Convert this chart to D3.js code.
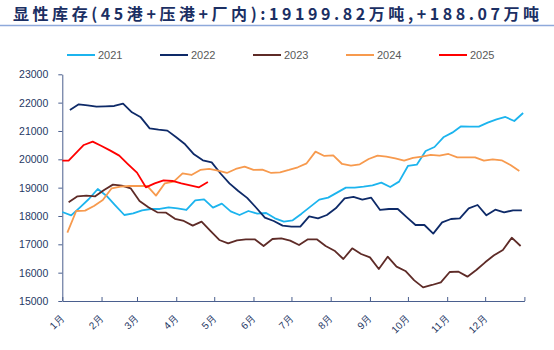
<!DOCTYPE html>
<html>
<head>
<meta charset="utf-8">
<script src="https://cdn.jsdelivr.net/npm/d3@7"></script>
<style>
	body { margin: 0; background: #fff; }
	.axis text { font-family: "Liberation Sans", Arial, sans-serif; fill: #1F3864; }
	.axis path, .axis line { stroke: #4A5F8E; }
</style>
</head>
<body>
<div id="chart-area"></div>
<script>

// tick labels + legend
var monthLabels = ["1月", "2月", "3月", "4月", "5月", "6月", "7月", "8月", "9月", "10月", "11月", "12月"];
var years = ["2021", "2022", "2023", "2024", "2025"];
var yTicks = [15000, 16000, 17000, 18000, 19000, 20000, 21000, 22000, 23000];

// first week of each year (weekly data after that)
var startDates = ["01-01", "01-07", "01-06", "01-05"];
// 2025 has an irregular start, so dates are listed
var dates2025 = ["01-01", "01-06", "01-18", "01-25", "02-01", "02-08", "02-15", "02-22", "03-01",
	"03-08", "03-15", "03-22", "03-29", "04-05", "04-12", "04-19", "04-26"];

// inventory, 万吨
var inv2021 = [18141, 18024, 18306, 18600, 18953, 18706, 18365, 18035, 18094, 18200,
	18247, 18247, 18306, 18270, 18212, 18553, 18588, 18294, 18435, 18165,
	18035, 18176, 18082, 18106, 17918, 17800, 17847, 18082, 18329, 18576,
	18647, 18824, 19000, 19000, 19035, 19082, 19176, 19024, 19212, 19765,
	19812, 20294, 20435, 20776, 20941, 21165, 21153, 21153, 21294, 21412,
	21494, 21353, 21635];
var inv2022 = [21741, 21941, 21906, 21859, 21871, 21882, 21965, 21659, 21482, 21094,
	21047, 21012, 20780, 20530, 20176, 19965, 19894, 19500, 19150, 18880,
	18640, 18300, 17941, 17824, 17659, 17624, 17624, 17988, 17918, 18035,
	18270, 18624, 18671, 18576, 18647, 18212, 18247, 18247, 17960, 17682,
	17682, 17376, 17776, 17894, 17918, 18271, 18388, 18024, 18224, 18129,
	18200, 18200];
var inv2023 = [18482, 18694, 18718, 18694, 18918, 19106, 19071, 18976, 18529, 18306,
	18129, 18118, 17900, 17824, 17659, 17800, 17471, 17153, 17035, 17141,
	17176, 17176, 16941, 17188, 17212, 17129, 16976, 17176, 17176, 16941,
	16776, 16482, 16859, 16659, 16541, 16129, 16565, 16212, 16059, 15729,
	15482, 15565, 15659, 16024, 16035, 15859, 16094, 16365, 16612, 16800,
	17235, 16941];
var inv2024 = [17412, 18176, 18188, 18353, 18565, 18976, 19035, 19059, 19059, 19059,
	18718, 19153, 19210, 19506, 19447, 19624, 19659, 19600, 19518, 19659,
	19741, 19624, 19635, 19518, 19541, 19624, 19718, 19859, 20271, 20118,
	20141, 19835, 19776, 19824, 20012, 20129, 20094, 20035, 19953, 20047,
	20094, 20153, 20129, 20188, 20071, 20071, 20071, 19953, 20000, 19965,
	19800, 19588];
var inv2025 = [19953, 19953, 20506, 20624, 20471, 20306, 20129, 19824, 19529, 19012,
	19153, 19259, 19235, 19153, 19082, 19012, 19200];

var lineColors = ["#1CB4EE", "#0E2A68", "#5E2B27", "#F79A4E", "#FF0000"];


InventoryChart = function(_parentElement) {
	this.parentElement = _parentElement;
	this.initVis();
}

InventoryChart.prototype.initVis = function() {
	var vis = this;

	vis.width = 554;
	vis.height = 350;
	vis.plot = { left: 62.3, right: 524.4, top: 74.3, bottom: 301 };

	vis.svg = d3.select("#" + vis.parentElement).append("svg")
		.attr("width", vis.width)
		.attr("height", vis.height);

	vis.parseDay = d3.timeParse("%Y-%m-%d");

	// all years are put on one calendar year
	vis.x = d3.scaleTime()
		.domain([new Date(2021, 0, 1), new Date(2022, 0, 1)])
		.range([vis.plot.left, vis.plot.right]);
	vis.y = d3.scaleLinear()
		.domain([15000, 23000])
		.range([vis.plot.bottom, vis.plot.top]);

	// title - spread out with letter spacing to fill the width like the original
	var titleText = "显性库存(45港+压港+厂内):19199.82万吨,+188.07万吨";
	vis.title = vis.svg.append("text")
		.attr("x", 13)
		.attr("y", 20)
		.style("font-family", "'Noto Sans CJK SC', sans-serif")
		.style("font-weight", "bold")
		.style("font-size", "16px")
		.attr("fill", "#1B2F63")
		.text(titleText);
	var w = vis.title.node().getComputedTextLength();
	var n = Array.from(titleText).length;
	vis.title.style("letter-spacing", ((526 - w) / (n - 1)) + "px");

	vis.svg.append("line")
		.attr("x1", 0).attr("x2", vis.width)
		.attr("y1", 25.5).attr("y2", 25.5)
		.attr("stroke", "#8EA9DB")
		.attr("stroke-width", 1.5);

	// legend
	vis.legend = vis.svg.selectAll(".legend")
		.data(years)
		.enter().append("g")
		.attr("class", "legend")
		.attr("transform", (d, i) => "translate(" + (67 + i * 93) + ",55)");
	vis.legend.append("line")
		.attr("x1", 0).attr("x2", 28)
		.attr("stroke", (d, i) => lineColors[i])
		.attr("stroke-width", 2);
	vis.legend.append("text")
		.attr("x", 31)
		.attr("dy", "0.35em")
		.style("font-family", "'Liberation Sans', Arial, sans-serif")
		.style("font-size", "11px")
		.attr("fill", "#595959")
		.text(d => d);

	// axes
	vis.yAxis = d3.axisLeft(vis.y).tickValues(yTicks).tickFormat(d3.format("d"))
		.tickSize(4).tickSizeOuter(0).tickPadding(10);
	vis.svg.append("g")
		.attr("class", "y-axis axis")
		.attr("transform", "translate(" + vis.plot.left + ",0)")
		.call(vis.yAxis)
		.selectAll("text").style("font-size", "10.5px");

	vis.monthTicks = d3.timeMonth.range(new Date(2021, 0, 1), new Date(2022, 0, 2));
	vis.xAxis = d3.axisBottom(vis.x)
		.tickValues(vis.monthTicks)
		.tickFormat((d, i) => i < 12 ? monthLabels[i] : "")
		.tickSizeInner(-4).tickSizeOuter(0);
	vis.svg.append("g")
		.attr("class", "x-axis axis")
		.attr("transform", "translate(0," + vis.plot.bottom + ")")
		.call(vis.xAxis)
		.selectAll("text")
		.attr("x", 0).attr("y", 0).attr("dy", 0)
		.attr("text-anchor", "end")
		.attr("transform", "translate(2,18) rotate(-45)")
		.style("font-size", "10px");

	vis.line = d3.line()
		.x(d => vis.x(d.date))
		.y(d => vis.y(d.value));

	vis.wrangleData();
}

InventoryChart.prototype.wrangleData = function() {
	var vis = this;

	var weekly = [inv2021, inv2022, inv2023, inv2024];
	vis.series = weekly.map((vals, i) => {
		var start = vis.parseDay("2021-" + startDates[i]);
		return vals.map((v, k) => ({ date: d3.timeDay.offset(start, 7 * k), value: v }));
	});
	vis.series.push(inv2025.map((v, k) => ({ date: vis.parseDay("2021-" + dates2025[k]), value: v })));

	vis.updateVis();
}

InventoryChart.prototype.updateVis = function() {
	var vis = this;

	vis.svg.selectAll(".year-line")
		.data(vis.series)
		.enter().append("path")
		.attr("class", "year-line")
		.attr("fill", "none")
		.attr("stroke", (d, i) => lineColors[i])
		.attr("stroke-width", 1.8)
		.attr("stroke-linejoin", "round")
		.attr("d", vis.line);
}

var chart = new InventoryChart("chart-area");

</script>
</body>
</html>
